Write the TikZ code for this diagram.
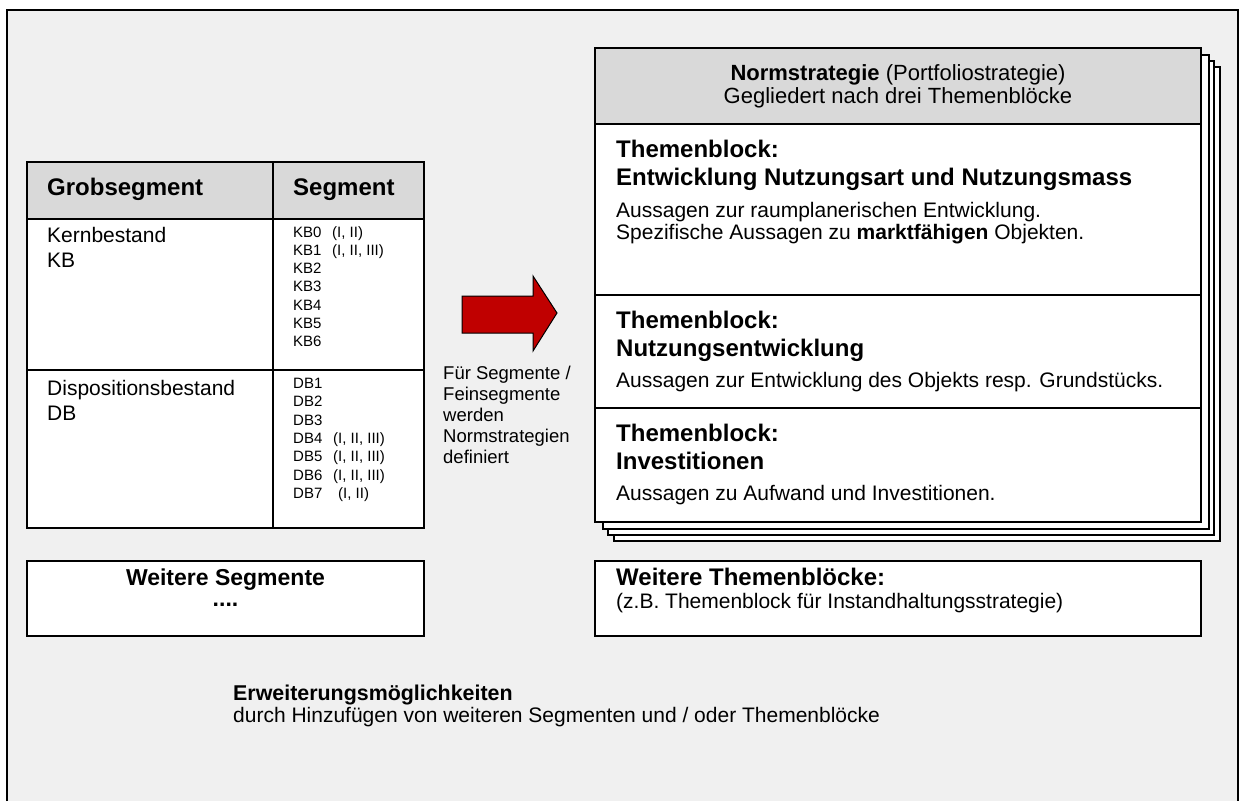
\documentclass[tikz,border=0pt]{standalone}
\usepackage{fontspec}
\setmainfont{Liberation Sans}
\usetikzlibrary{positioning}
\definecolor{paneback}{HTML}{F0F0F0}
\definecolor{headgray}{HTML}{D9D9D9}
\definecolor{arrowred}{HTML}{C00000}
\newcommand{\fsz}[2]{\fontsize{#1}{#2}\selectfont}
\newcommand{\segline}[3]{\makebox[#1][l]{#2}#3}

\begin{document}
\begin{tikzpicture}[x=1pt,y=-1pt,
    box/.style={draw,line width=1.6pt,fill=white,anchor=north west,inner sep=0pt,outer sep=0pt},
    headbox/.style={box,fill=headgray},
    txt/.style={anchor=north west,inner sep=0pt,align=left},
    basetxt/.style={anchor=base west,inner sep=0pt}]
    \useasboundingbox (0,0) rectangle (1239,801);
    % background panel
    \fill[paneback] (7,10) rectangle (1238,801);
    \draw[line width=1.6pt] (7,801) -- (7,10) -- (1238,10) -- (1238,801);

    % segment table
    \node[headbox,minimum width=246pt,minimum height=57pt] (grobhead) at (27,162) {};
    \node[headbox,minimum width=151pt,minimum height=57pt] (seghead) at (grobhead.north east) {};
    \node[box,minimum width=246pt,minimum height=151pt] (kbcell) at (grobhead.south west) {};
    \node[box,minimum width=151pt,minimum height=151pt] (kbseg) at (kbcell.north east) {};
    \node[box,minimum width=246pt,minimum height=158pt] (dbcell) at (kbcell.south west) {};
    \node[box,minimum width=151pt,minimum height=158pt] (dbseg) at (dbcell.north east) {};

    \node[basetxt,font=\fsz{24}{28}\bfseries] (grobtxt) at ([shift={(20pt,-33pt)}]grobhead.north west) {Grobsegment};
    \node[basetxt,font=\fsz{24}{28}\bfseries] (segtxt) at ([shift={(20pt,-33pt)}]seghead.north west) {Segment};
    \node[txt,font=\fsz{21}{25}] (kbtxt) at ([shift={(20pt,-8pt)}]kbcell.north west) {Kernbestand\\KB};
    \node[txt,font=\fsz{21}{25}] (dbtxt) at ([shift={(20pt,-10pt)}]dbcell.north west) {Dispositionsbestand\\DB};
    \node[txt,font=\fsz{15}{18.3}] (kblist) at ([shift={(20pt,-7pt)}]kbseg.north west)
        {\segline{39pt}{KB0}{(I, II)}\\\segline{39pt}{KB1}{(I, II, III)}\\KB2\\KB3\\KB4\\KB5\\KB6};
    \node[txt,font=\fsz{15}{18.3}] (dblist) at ([shift={(20pt,-8pt)}]dbseg.north west)
        {DB1\\DB2\\DB3\\\segline{40pt}{DB4}{(I, II, III)}\\\segline{40pt}{DB5}{(I, II, III)}\\\segline{40pt}{DB6}{(I, II, III)}\\\segline{45pt}{DB7}{(I, II)}};

    % arrow and its caption
    \draw[line width=1pt,fill=arrowred] (462,296) -- (533,296) -- (533,276) -- (557,313)
        -- (533,351) -- (533,333) -- (462,333) -- cycle;
    \node[txt,font=\fsz{18.5}{21}] (midtxt) at (443,366)
        {Für Segmente /\\Feinsegmente\\werden\\Normstrategien\\definiert};

    % stacked sheets behind the strategy
    \foreach \dx/\dy in {19/19,13/13,8/7}
        \draw[line width=1.3pt,fill=white] ({595+\dx},{48+\dy}) rectangle ({1201+\dx},{522+\dy});

    % strategy blocks
    \node[headbox,minimum width=606pt,minimum height=76pt] (normhead) at (595,48) {};
    \node[box,minimum width=606pt,minimum height=171pt] (blockA) at (normhead.south west) {};
    \node[box,minimum width=606pt,minimum height=113pt] (blockB) at (blockA.south west) {};
    \node[box,minimum width=606pt,minimum height=114pt] (blockC) at (blockB.south west) {};

    \node[align=center,inner sep=0pt,font=\fsz{22}{23}] (normtxt) at (normhead.center)
        {\textbf{Normstrategie} (Portfoliostrategie)\\Gegliedert nach drei Themenblöcke};
    \node[txt,font=\fsz{24}{28}\bfseries] (headA) at ([shift={(21pt,-16pt)}]blockA.north west)
        {Themenblock:\\Entwicklung Nutzungsart und Nutzungsmass};
    \node[txt,font=\fsz{21}{22}] (descA) at ([shift={(21pt,-78pt)}]blockA.north west)
        {Aussagen zur raumplanerischen Entwicklung.\\Spezifische Aussagen zu \textbf{marktfähigen} Objekten.};
    \node[txt,font=\fsz{24}{28}\bfseries] (headB) at ([shift={(21pt,-16pt)}]blockB.north west)
        {Themenblock:\\Nutzungsentwicklung};
    \node[txt,font=\fsz{21}{22}] (descB) at ([shift={(21pt,-77pt)}]blockB.north west)
        {Aussagen zur Entwicklung des Objekts resp. Grundstücks.};
    \node[txt,font=\fsz{24}{28}\bfseries] (headC) at ([shift={(21pt,-16pt)}]blockC.north west)
        {Themenblock:\\Investitionen};
    \node[txt,font=\fsz{21}{22}] (descC) at ([shift={(21pt,-77pt)}]blockC.north west)
        {Aussagen zu Aufwand und Investitionen.};

    % extension boxes
    \node[box,minimum width=397pt,minimum height=75pt] (moreseg) at (27,561) {};
    \node[anchor=north,align=center,inner sep=0pt,font=\fsz{23}{21}\bfseries] (moresegtxt)
        at ([yshift=-8pt]moreseg.north) {Weitere Segmente\\....};
    \node[box,minimum width=606pt,minimum height=75pt] (moreblk) at (595,561) {};
    \node[basetxt,font=\fsz{24}{28}\bfseries] (moreblktxt) at ([shift={(21pt,-24pt)}]moreblk.north west)
        {Weitere Themenblöcke:};
    \node[basetxt,font=\fsz{21}{22}] (moreblkdesc) at ([shift={(21pt,-47pt)}]moreblk.north west)
        {(z.B. Themenblock für Instandhaltungsstrategie)};

    \node[basetxt,font=\fsz{21.4}{22}\bfseries] (extitle) at (233,700) {Erweiterungsmöglichkeiten};
    \node[basetxt,font=\fsz{21}{22}] (extdesc) at (233,722)
        {durch Hinzufügen von weiteren Segmenten und / oder Themenblöcke};
\end{tikzpicture}
\end{document}
